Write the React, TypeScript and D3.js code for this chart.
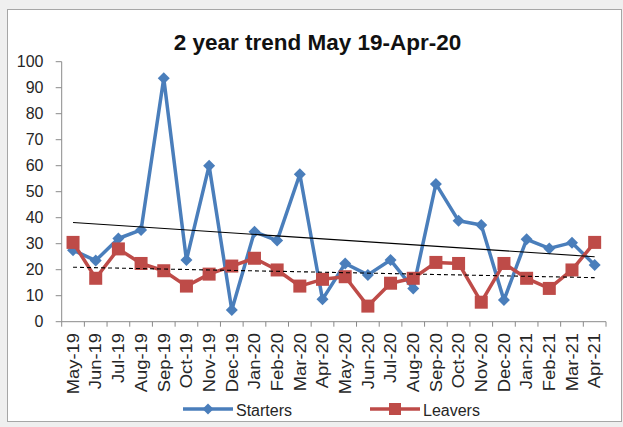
import React from 'react';
import * as d3 from 'd3';

// Monthly categories, May 2019 through April 2021
const months = [
  'May-19', 'Jun-19', 'Jul-19', 'Aug-19', 'Sep-19', 'Oct-19', 'Nov-19', 'Dec-19',
  'Jan-20', 'Feb-20', 'Mar-20', 'Apr-20', 'May-20', 'Jun-20', 'Jul-20', 'Aug-20',
  'Sep-20', 'Oct-20', 'Nov-20', 'Dec-20', 'Jan-21', 'Feb-21', 'Mar-21', 'Apr-21',
];

const starters = [
  27.5, 23.5, 32, 35.3, 93.6, 23.7, 60, 4.5,
  34.6, 31.2, 56.7, 8.6, 22.4, 18, 23.7, 12.8,
  53, 38.8, 37.2, 8.3, 31.7, 28.2, 30.4, 21.8,
];

const leavers = [
  30.5, 16.7, 28, 22.4, 19.6, 13.7, 18.3, 21.4,
  24.4, 19.9, 13.7, 16.3, 17.3, 6, 14.8, 16.7,
  22.8, 22.4, 7.5, 22.4, 16.7, 12.8, 19.9, 30.5,
];

const yTicks = [0, 10, 20, 30, 40, 50, 60, 70, 80, 90, 100];

const BLUE = '#4A7EBB';
const RED = '#BE4B48';
const AXIS = '#8A8A8A';
const FONT = "'Liberation Sans', Arial, sans-serif";

// Least-squares linear fit against category index 1..n
function linearFit(values: number[]) {
  const n = values.length;
  const xs = values.map((_, i) => i + 1);
  const mx = d3.mean(xs) as number;
  const my = d3.mean(values) as number;
  let num = 0;
  let den = 0;
  xs.forEach((xv, i) => {
    num += (xv - mx) * (values[i] - my);
    den += (xv - mx) * (xv - mx);
  });
  const slope = num / den;
  const intercept = my - slope * mx;
  return { start: intercept + slope * 1, end: intercept + slope * n };
}

export default function App() {
  const W = 623;
  const H = 427;
  const left = 61.7;
  const right = 606;
  const top = 61.7;
  const bottom = 321.7;

  const x = d3.scaleBand<string>().domain(months).range([left, right]).padding(0);
  const y = d3.scaleLinear().domain([0, 100]).range([bottom, top]);
  const cx = (m: string) => (x(m) as number) + x.bandwidth() / 2;

  const line = d3
    .line<number>()
    .x((_, i) => cx(months[i]))
    .y((d) => y(d));

  const tickXs = months.map((m) => x(m) as number).concat([right]);

  const sTrend = linearFit(starters);
  const lTrend = linearFit(leavers);
  const firstX = cx(months[0]);
  const lastX = cx(months[months.length - 1]);

  const diamond = (r: number) => `M0,${-r}L${r},0L0,${r}L${-r},0Z`;

  return (
    <svg
      width={W}
      height={H}
      style={{ position: 'absolute', left: 0, top: 0 }}
      fontFamily={FONT}
    >
      <rect x={0} y={0} width={W} height={H} fill="#EFEFEF" />
      <rect x={7.5} y={9.5} width={614} height={412} fill="#FFFFFF" stroke="#A6A6A6" />

      <text
        x={317.5}
        y={50}
        textAnchor="middle"
        fontSize={22.5}
        fontWeight="bold"
        fill="#111"
      >
        2 year trend May 19-Apr-20
      </text>

      {/* value axis */}
      <line x1={left} x2={left} y1={top} y2={bottom} stroke={AXIS} />
      {yTicks.map((t) => (
        <g key={t}>
          <line x1={left - 6} x2={left} y1={y(t)} y2={y(t)} stroke={AXIS} />
          <text
            x={43.5}
            y={y(t)}
            dy="0.36em"
            textAnchor="end"
            fontSize={16}
            fill="#262626"
          >
            {t}
          </text>
        </g>
      ))}

      {/* category axis */}
      <line x1={left} x2={right} y1={bottom} y2={bottom} stroke={AXIS} />
      {tickXs.map((tx, i) => (
        <line key={i} x1={tx} x2={tx} y1={bottom} y2={bottom + 5} stroke={AXIS} />
      ))}
      {months.map((m) => (
        <text
          key={m}
          transform={`translate(${cx(m)},333) rotate(-90) scale(1.15,1)`}
          textAnchor="end"
          dy="0.36em"
          fontSize={16}
          fill="#262626"
        >
          {m}
        </text>
      ))}

      {/* series */}
      <path d={line(starters) as string} fill="none" stroke={BLUE} strokeWidth={3.5} strokeLinejoin="round" />
      {starters.map((v, i) => (
        <path
          key={`s${i}`}
          d={diamond(6)}
          transform={`translate(${cx(months[i])},${y(v)})`}
          fill={BLUE}
        />
      ))}
      <path d={line(leavers) as string} fill="none" stroke={RED} strokeWidth={3.5} strokeLinejoin="round" />
      {leavers.map((v, i) => (
        <rect
          key={`l${i}`}
          x={cx(months[i]) - 6.5}
          y={y(v) - 6.5}
          width={13}
          height={13}
          fill={RED}
        />
      ))}

      {/* linear trends */}
      <line x1={firstX} x2={lastX} y1={y(sTrend.start)} y2={y(sTrend.end)} stroke="#000" strokeWidth={1.1} />
      <line
        x1={firstX}
        x2={lastX}
        y1={y(lTrend.start)}
        y2={y(lTrend.end)}
        stroke="#000"
        strokeWidth={1.1}
        strokeDasharray="4,3"
      />

      {/* legend */}
      <line x1={183} x2={233} y1={409} y2={409} stroke={BLUE} strokeWidth={3.5} />
      <path d={diamond(5.5)} transform="translate(208,409)" fill={BLUE} />
      <text x={236} y={415.5} fontSize={16} fill="#262626">
        Starters
      </text>
      <line x1={370} x2={420} y1={409} y2={409} stroke={RED} strokeWidth={3.5} />
      <rect x={389} y={403} width={12} height={12} fill={RED} />
      <text x={423} y={415.5} fontSize={16} fill="#262626">
        Leavers
      </text>
    </svg>
  );
}
